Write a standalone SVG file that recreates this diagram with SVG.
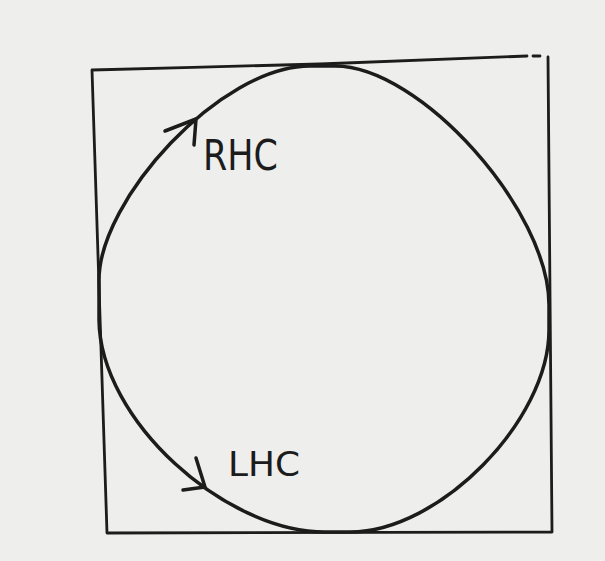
<svg xmlns="http://www.w3.org/2000/svg" width="605" height="561" viewBox="0 0 605 561">
<style>
.ln{fill:none;stroke:#1c1c1c;stroke-width:3.5;stroke-linecap:round;stroke-linejoin:round}
.bd{fill:none;stroke:#1c1c1c;stroke-width:2.8;stroke-linecap:round;stroke-linejoin:round}
.lb{font-family:"DejaVu Sans",sans-serif;fill:#1c1c1c}
</style>
<rect width="605" height="561" fill="#eeeeec"/>
<g id="square">
<path class="bd" d="M92,70 C170,68 240,66 320,64 C400,61 470,58 527,56 M533,56 L540,56 M548,57 L552,532 L107,533 L92,70"/>
</g>
<g id="circle">
<path class="ln" d="M310,66 L335,66 C420,66 549,210 549,305 L549,330 C549,420 440,532 350,532 L325,532 C225,532 100,420 99,320 L99,280 C99,200 220,66 310,66 Z"/>
</g>
<g id="connectors">
<path class="ln" d="M165,131 L196,119 L194,145"/>
<path class="ln" d="M196,458 L205,487 L183,490"/>
</g>
<g id="rhc">
<text class="lb" x="203" y="170" font-size="42" textLength="75" lengthAdjust="spacingAndGlyphs">RHC</text>
</g>
<g id="lhc">
<text class="lb" x="228" y="476" font-size="33" textLength="72" lengthAdjust="spacingAndGlyphs">LHC</text>
</g>
</svg>
